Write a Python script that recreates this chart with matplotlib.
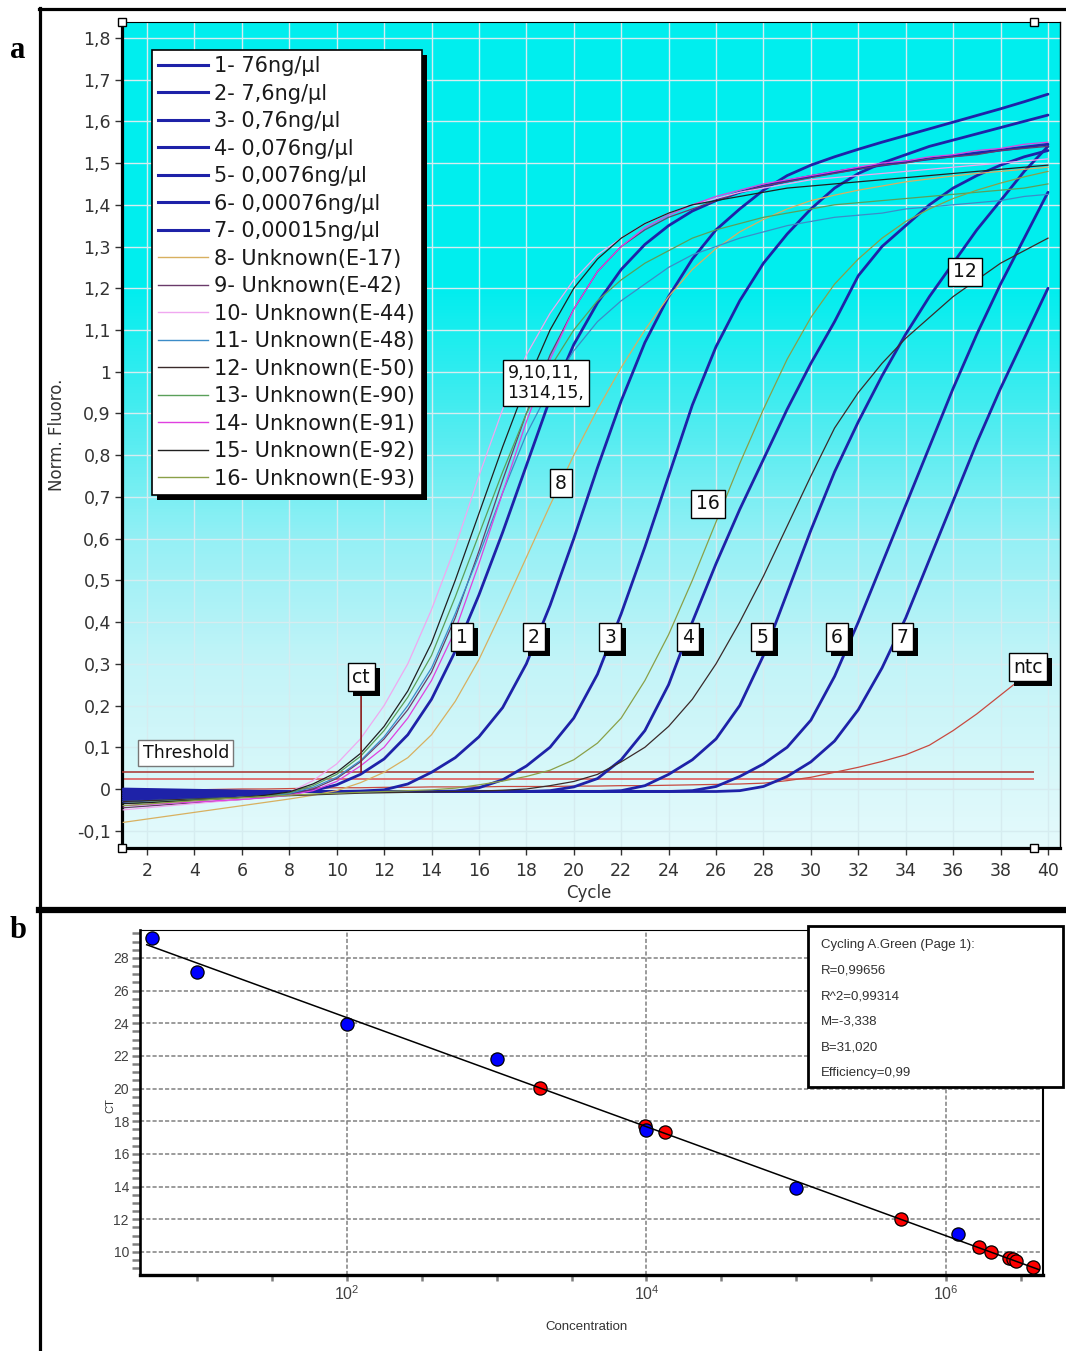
import numpy as np
import matplotlib
matplotlib.use("Agg")
import matplotlib.pyplot as plt
from matplotlib.colors import LinearSegmentedColormap
from matplotlib.patches import Rectangle
from matplotlib.lines import Line2D
from matplotlib.transforms import IdentityTransform
from matplotlib.ticker import FixedLocator, FuncFormatter, MultipleLocator, NullFormatter

W, H = 1066, 1351

# --- Panel a: amplification curves (Norm. Fluoro. per cycle) ---
cycles = list(range(1, 41))

std1 = [-0.030, -0.027, -0.024, -0.021, -0.018, -0.015, -0.012, -0.009, -0.004, 0.010,
        0.035, 0.072, 0.130, 0.215, 0.330, 0.465, 0.615, 0.775, 0.935, 1.065,
        1.165, 1.245, 1.305, 1.350, 1.385, 1.410, 1.430, 1.445, 1.457, 1.468,
        1.478, 1.487, 1.495, 1.503, 1.510, 1.517, 1.524, 1.531, 1.538, 1.545]
std2 = [-0.025, -0.022, -0.019, -0.016, -0.013, -0.010, -0.008, -0.006, -0.006, -0.006,
        -0.005, -0.002, 0.012, 0.040, 0.075, 0.125, 0.195, 0.300, 0.440, 0.600,
        0.770, 0.930, 1.070, 1.180, 1.270, 1.340, 1.390, 1.435, 1.470, 1.495,
        1.515, 1.533, 1.550, 1.566, 1.582, 1.598, 1.614, 1.630, 1.647, 1.665]
std3 = [-0.020, -0.018, -0.016, -0.014, -0.012, -0.010, -0.008, -0.006, -0.006, -0.006,
        -0.006, -0.006, -0.006, -0.006, -0.005, 0.003, 0.022, 0.055, 0.100, 0.170,
        0.275, 0.420, 0.580, 0.750, 0.920, 1.060, 1.170, 1.260, 1.330, 1.390,
        1.440, 1.475, 1.500, 1.520, 1.540, 1.555, 1.570, 1.585, 1.600, 1.615]
std4 = [-0.015, -0.014, -0.013, -0.012, -0.011, -0.010, -0.008, -0.006, -0.006, -0.006,
        -0.006, -0.006, -0.006, -0.006, -0.006, -0.006, -0.006, -0.006, -0.004, 0.005,
        0.025, 0.070, 0.140, 0.250, 0.400, 0.540, 0.670, 0.790, 0.910, 1.020,
        1.120, 1.230, 1.300, 1.350, 1.400, 1.440, 1.470, 1.495, 1.515, 1.530]
std5 = [-0.010, -0.010, -0.009, -0.009, -0.008, -0.008, -0.007, -0.006, -0.006, -0.006,
        -0.006, -0.006, -0.006, -0.006, -0.006, -0.006, -0.006, -0.006, -0.006, -0.006,
        -0.006, -0.004, 0.008, 0.035, 0.070, 0.120, 0.200, 0.320, 0.470, 0.620,
        0.760, 0.880, 0.990, 1.090, 1.180, 1.260, 1.340, 1.410, 1.480, 1.540]
std6 = [-0.004, -0.004, -0.005, -0.005, -0.005, -0.006, -0.006, -0.006, -0.006, -0.006,
        -0.006, -0.006, -0.006, -0.006, -0.006, -0.006, -0.006, -0.006, -0.006, -0.006,
        -0.006, -0.006, -0.006, -0.006, -0.004, 0.006, 0.030, 0.060, 0.100, 0.165,
        0.270, 0.400, 0.540, 0.680, 0.820, 0.960, 1.090, 1.210, 1.320, 1.430]
std7 = [0.000, -0.001, -0.002, -0.003, -0.004, -0.005, -0.006, -0.006, -0.006, -0.006,
        -0.006, -0.006, -0.006, -0.006, -0.006, -0.006, -0.006, -0.006, -0.006, -0.006,
        -0.006, -0.006, -0.006, -0.006, -0.006, -0.006, -0.004, 0.006, 0.030, 0.065,
        0.115, 0.190, 0.290, 0.410, 0.550, 0.690, 0.830, 0.960, 1.080, 1.200]

unk8 = [-0.080, -0.072, -0.064, -0.056, -0.048, -0.040, -0.032, -0.024, -0.015, -0.004,
        0.015, 0.040, 0.075, 0.130, 0.210, 0.310, 0.430, 0.555, 0.680, 0.800,
        0.910, 1.010, 1.100, 1.180, 1.245, 1.295, 1.335, 1.365, 1.390, 1.410,
        1.423, 1.435, 1.445, 1.455, 1.462, 1.469, 1.475, 1.480, 1.485, 1.490]
unk9 = [-0.045, -0.041, -0.037, -0.033, -0.029, -0.025, -0.020, -0.013, 0.000, 0.025,
        0.065, 0.120, 0.190, 0.280, 0.410, 0.570, 0.740, 0.900, 1.040, 1.150,
        1.240, 1.300, 1.340, 1.370, 1.390, 1.410, 1.430, 1.445, 1.455, 1.465,
        1.475, 1.485, 1.495, 1.500, 1.510, 1.515, 1.520, 1.530, 1.535, 1.540]
unk10 = [-0.050, -0.045, -0.040, -0.035, -0.030, -0.025, -0.018, -0.008, 0.020, 0.060,
         0.120, 0.200, 0.300, 0.430, 0.580, 0.750, 0.910, 1.040, 1.140, 1.220,
         1.280, 1.320, 1.355, 1.380, 1.400, 1.415, 1.430, 1.440, 1.450, 1.460,
         1.465, 1.470, 1.475, 1.480, 1.485, 1.490, 1.495, 1.500, 1.505, 1.510]
unk11 = [-0.030, -0.028, -0.026, -0.024, -0.022, -0.020, -0.017, -0.011, 0.004, 0.028,
         0.068, 0.125, 0.200, 0.290, 0.420, 0.560, 0.710, 0.850, 0.960, 1.050,
         1.120, 1.170, 1.210, 1.250, 1.280, 1.300, 1.320, 1.335, 1.350, 1.360,
         1.370, 1.375, 1.380, 1.390, 1.395, 1.400, 1.405, 1.410, 1.420, 1.425]
unk12 = [-0.030, -0.028, -0.026, -0.024, -0.022, -0.020, -0.018, -0.016, -0.014, -0.012,
         -0.010, -0.009, -0.008, -0.007, -0.006, -0.005, -0.003, 0.000, 0.008, 0.018,
         0.035, 0.065, 0.100, 0.150, 0.215, 0.300, 0.400, 0.510, 0.630, 0.750,
         0.865, 0.950, 1.020, 1.080, 1.130, 1.180, 1.220, 1.260, 1.290, 1.320]
unk13 = [-0.035, -0.032, -0.029, -0.026, -0.023, -0.020, -0.016, -0.009, 0.008, 0.035,
         0.078, 0.140, 0.220, 0.320, 0.460, 0.610, 0.760, 0.900, 1.010, 1.100,
         1.170, 1.220, 1.260, 1.290, 1.320, 1.340, 1.355, 1.370, 1.380, 1.390,
         1.400, 1.405, 1.410, 1.415, 1.420, 1.425, 1.430, 1.435, 1.440, 1.450]
unk14 = [-0.040, -0.037, -0.034, -0.031, -0.028, -0.025, -0.021, -0.015, -0.004, 0.018,
         0.055, 0.100, 0.170, 0.260, 0.380, 0.540, 0.710, 0.880, 1.030, 1.150,
         1.240, 1.300, 1.345, 1.375, 1.400, 1.420, 1.435, 1.450, 1.460, 1.470,
         1.480, 1.490, 1.500, 1.505, 1.515, 1.520, 1.530, 1.535, 1.545, 1.550]
unk15 = [-0.035, -0.033, -0.030, -0.027, -0.024, -0.020, -0.015, -0.007, 0.012, 0.040,
         0.085, 0.150, 0.235, 0.350, 0.500, 0.660, 0.820, 0.970, 1.100, 1.200,
         1.270, 1.320, 1.355, 1.380, 1.400, 1.410, 1.420, 1.430, 1.440, 1.445,
         1.450, 1.455, 1.460, 1.465, 1.470, 1.475, 1.480, 1.485, 1.490, 1.495]
unk16 = [-0.040, -0.036, -0.032, -0.028, -0.024, -0.021, -0.018, -0.015, -0.012, -0.010,
         -0.008, -0.006, -0.004, -0.002, 0.002, 0.010, 0.019, 0.030, 0.045, 0.070,
         0.110, 0.170, 0.260, 0.370, 0.500, 0.640, 0.780, 0.910, 1.030, 1.130,
         1.210, 1.270, 1.320, 1.360, 1.390, 1.415, 1.435, 1.452, 1.467, 1.480]
ntc = [-0.005, -0.004, -0.003, -0.002, -0.001, 0.000, 0.000, 0.001, 0.002, 0.003,
       0.003, 0.004, 0.004, 0.005, 0.005, 0.005, 0.006, 0.006, 0.006, 0.007,
       0.007, 0.008, 0.008, 0.009, 0.010, 0.011, 0.012, 0.014, 0.020, 0.028,
       0.040, 0.052, 0.066, 0.082, 0.105, 0.140, 0.180, 0.225, 0.270, 0.310]

threshold = 0.04
ntc_flat = 0.025
threshold_end = 39.4

std_labels = ["1- 76ng/\u00b5l", "2- 7,6ng/\u00b5l", "3- 0,76ng/\u00b5l", "4- 0,076ng/\u00b5l",
              "5- 0,0076ng/\u00b5l", "6- 0,00076ng/\u00b5l", "7- 0,00015ng/\u00b5l"]
unk_labels = ["8- Unknown(E-17)", "9- Unknown(E-42)", "10- Unknown(E-44)", "11- Unknown(E-48)",
              "12- Unknown(E-50)", "13- Unknown(E-90)", "14- Unknown(E-91)", "15- Unknown(E-92)",
              "16- Unknown(E-93)"]
unk_colors = ["#d8b060", "#6a3a6a", "#f0a8f0", "#3c8cc8", "#3a2a2a",
              "#5aa05a", "#e040e0", "#202020", "#8aa048"]

# --- Panel b: standard curve ---
std_conc = [5.0, 10.0, 100.0, 1000.0, 1.0e4, 1.0e5, 1.2e6]
std_ct = [29.24, 27.12, 23.98, 21.83, 17.47, 13.90, 11.10]
unk_conc = [1950.0, 9770.0, 13200.0, 5.0e5, 1.66e6, 2.0e6, 2.63e6, 2.82e6, 2.95e6, 3.8e6]
unk_ct = [20.06, 17.73, 17.36, 12.00, 10.32, 10.00, 9.65, 9.55, 9.46, 9.08]
fit_R, fit_R2, fit_M, fit_B, fit_eff = 0.99656, 0.99314, -3.338, 31.020, 0.99
fit_range = [4.6, 4.2e6]

STD_COLOR = "#1e22a8"


def fx(px):
    return px / W


def fy(py):
    return 1 - py / H


def comma(v, nd):
    return f"{v:.{nd}f}".replace(".", ",")


fig = plt.figure(figsize=(W / 100, H / 100), dpi=100)

# --- frame ---
fig.add_artist(Line2D([fx(39), fx(1066)], [fy(9), fy(9)], color="black", lw=2.3))
fig.add_artist(Line2D([fx(40), fx(40)], [fy(8), fy(1351)], color="black", lw=2.3))
fig.add_artist(Line2D([fx(39), fx(1066)], [fy(910), fy(910)], color="black", lw=4.5))
fig.text(fx(18), fy(50), "a", fontsize=22, fontweight="bold", family="Liberation Serif",
         ha="center", va="center")
fig.text(fx(18), fy(930), "b", fontsize=22, fontweight="bold", family="Liberation Serif",
         ha="center", va="center")

# ================= panel a =================
ax = fig.add_axes([fx(122), fy(848), fx(1060) - fx(122), fy(22) - fy(848)])
xlim = (0.946, 40.507)
ylim = (-0.1414, 1.838)

bg = LinearSegmentedColormap.from_list("bg", [
    (0.0, "#e4fafc"), (0.07, "#daf8fa"), (0.22, "#c3f4f8"), (0.37, "#96f0f5"),
    (0.53, "#46ecf0"), (0.68, "#00eeee"), (1.0, "#00eeee")])
ax.imshow(np.linspace(0, 1, 256).reshape(-1, 1), cmap=bg, origin="lower",
          extent=[xlim[0], xlim[1], ylim[0], ylim[1]], aspect="auto", zorder=0,
          interpolation="bilinear")

for vals in [std1, std2, std3, std4, std5, std6, std7]:
    ax.plot(cycles, vals, color=STD_COLOR, lw=2.0, zorder=3, solid_capstyle="round",
            solid_joinstyle="round")

ax.hlines(ntc_flat, cycles[0], threshold_end, color="#e05050", lw=1.1, zorder=2.5)
ax.hlines(threshold, xlim[0], threshold_end, color="#a8302c", lw=1.1, zorder=2.6)
ax.plot(cycles, ntc, color="#c84a40", lw=0.9, zorder=2.7)

unk_vals = [unk8, unk9, unk10, unk11, unk12, unk13, unk14, unk15, unk16]
for vals, col in zip(unk_vals, unk_colors):
    ax.plot(cycles, vals, color=col, lw=0.9, zorder=4)

ax.set_xlim(*xlim)
ax.set_ylim(*ylim)
ax.set_xticks(range(2, 41, 2))
ax.set_yticks(np.round(np.arange(-0.1, 1.81, 0.1), 1))


def fmt_a(v, pos):
    if abs(v) < 1e-9:
        v = 0.0
    return f"{v:g}".replace(".", ",")


ax.yaxis.set_major_formatter(FuncFormatter(fmt_a))
ax.grid(True, color="#d6ecf0", lw=1.0)
ax.set_axisbelow(True)
ax.tick_params(axis="both", direction="out", length=5, width=1, colors="#333333",
               labelsize=12.5)
ax.tick_params(axis="x", pad=5)
ax.tick_params(axis="y", pad=3)
ax.spines["left"].set_linewidth(2.3)
ax.spines["bottom"].set_linewidth(2.3)
ax.spines["top"].set_linewidth(0.8)
ax.spines["right"].set_linewidth(1.0)

fig.text(fx(57), fy(435), "Norm. Fluoro.", rotation=90, fontsize=12, color="#333333",
         ha="center", va="center")
fig.text(fx(589), fy(893), "Cycle", fontsize=12, color="#333333", ha="center", va="center")

# corner handles
for hx in [xlim[0], threshold_end]:
    for hy in [ylim[0], ylim[1]]:
        ax.plot([hx], [hy], marker="s", ms=6, mfc="white", mec="black", mew=1,
                clip_on=False, zorder=12)

shadowed = []


def label_box(x, y, s, shadow=True, fs=13.5, ec="black", **kw):
    t = ax.text(x, y, s, ha="center", va="center", fontsize=fs, zorder=7, color="#111111",
                bbox=dict(boxstyle="square,pad=0.25", fc="white", ec=ec, lw=1), **kw)
    if shadow:
        shadowed.append(t)
    return t


curve_labels = [("1", 15.29), ("2", 18.32), ("3", 21.53), ("4", 24.82),
                ("5", 27.94), ("6", 31.10), ("7", 33.88)]
for s, cx in curve_labels:
    label_box(cx, 0.364, s)
label_box(19.46, 0.733, "8", shadow=False)
label_box(25.66, 0.683, "16", shadow=False)
label_box(36.5, 1.239, "12", shadow=False)
label_box(18.83, 0.973, "9,10,11,\n1314,15,", shadow=False, fs=12.5, linespacing=1.15,
          multialignment="left")
label_box(3.64, 0.086, "Threshold", shadow=False, fs=12.5, ec="#777777")

# ct marker
label_box(11.03, 0.268, "ct", shadow=True)
ax.annotate("", xy=(11.03, threshold), xytext=(11.03, 0.232),
            arrowprops=dict(arrowstyle="-", color="#8b1a1a", lw=1.2, shrinkA=0, shrinkB=0),
            zorder=5)
label_box(39.16, 0.292, "ntc", shadow=True)

# legend
handles = [Line2D([], [], color=STD_COLOR, lw=2.2) for _ in std_labels] + \
          [Line2D([], [], color=c, lw=1.0) for c in unk_colors]
leg = ax.legend(handles, std_labels + unk_labels, loc="upper left",
                bbox_to_anchor=(fx(152), fy(50)), bbox_transform=fig.transFigure,
                fontsize=15, frameon=True, fancybox=False, edgecolor="black", framealpha=1,
                borderpad=0.3, labelspacing=0.36, handlelength=2.4, handletextpad=0.3,
                borderaxespad=0)
leg.get_frame().set_linewidth(1.2)
leg.set_zorder(10)
for t in leg.get_texts():
    t.set_color("#1a1a1a")

# ================= panel b =================
axb = fig.add_axes([fx(140), fy(1275), fx(1043) - fx(140), fy(930) - fy(1275)])
axb.set_xscale("log")
axb.set_xlim(10 ** 0.6177, 10 ** 6.648)
axb.set_ylim(8.59, 29.71)

line_x = np.array(fit_range)
axb.plot(line_x, fit_B + fit_M * np.log10(line_x), color="black", lw=1.1, zorder=5)
axb.plot(unk_conc, unk_ct, "o", ms=9.5, mfc="#ff0000", mec="black", mew=0.9, zorder=3)
axb.plot(std_conc, std_ct, "o", ms=9.5, mfc="#0000ff", mec="black", mew=0.9, zorder=4)

axb.xaxis.set_major_locator(FixedLocator([1e2, 1e4, 1e6]))
axb.xaxis.set_major_formatter(FuncFormatter(
    lambda v, p: r"$\mathregular{10^{%d}}$" % round(np.log10(v))))
axb.xaxis.set_minor_locator(FixedLocator(10 ** np.array([1.0, 1.5, 2.5, 3.0, 3.5, 4.5, 5.0, 5.5, 6.5])))
axb.xaxis.set_minor_formatter(NullFormatter())
axb.set_yticks(range(10, 29, 2))
axb.yaxis.set_minor_locator(MultipleLocator(0.5))
axb.grid(True, which="major", color="#808080", lw=1.1, ls=(0, (2.7, 1.4)))
axb.set_axisbelow(True)
axb.tick_params(axis="y", which="both", direction="out", length=6, width=1.8, color="#808080",
                labelcolor="#404040", labelsize=10, pad=2)
axb.tick_params(axis="x", which="both", direction="out", length=4, width=1.8, color="#808080",
                labelcolor="#404040", labelsize=11.5, pad=3)
for lab in axb.get_xticklabels() + axb.get_yticklabels():
    lab.set_family("Liberation Sans")
axb.spines["left"].set_linewidth(1.9)
axb.spines["bottom"].set_linewidth(2.4)
axb.spines["top"].set_linewidth(0.8)
axb.spines["right"].set_linewidth(1.5)

fig.text(fx(110), fy(1106), "CT", rotation=90, fontsize=8, color="#333333",
         family="Liberation Sans", ha="center", va="center")
fig.text(fx(587), fy(1327), "Concentration", fontsize=9.5, color="#333333",
         family="Liberation Sans", ha="center", va="center")

# stats box
fig.add_artist(Rectangle((fx(808), fy(1087)), fx(1063) - fx(808), fy(926) - fy(1087),
                         transform=fig.transFigure, fc="white", ec="black", lw=2.0, zorder=20))
stats = ["Cycling A.Green (Page 1):",
         "R=" + comma(fit_R, 5),
         "R^2=" + comma(fit_R2, 5),
         "M=" + comma(fit_M, 3),
         "B=" + comma(fit_B, 3),
         "Efficiency=" + comma(fit_eff, 2)]
for i, s in enumerate(stats):
    fig.text(fx(821), fy(945 + i * 25.6), s, fontsize=9.5, color="#303030",
             family="Liberation Sans", ha="left", va="center", zorder=21)

# drop shadows (legend and label boxes), placed once the layout is known
fig.canvas.draw()
bb = leg.get_window_extent()
ax.add_patch(Rectangle((bb.x0 + 5, bb.y0 - 5), bb.width, bb.height, transform=IdentityTransform(),
                       fc="black", ec="none", zorder=9.5, clip_on=False))
for t in shadowed:
    eb = t.get_bbox_patch().get_window_extent()
    ax.add_patch(Rectangle((eb.x0 + 5, eb.y0 - 5), eb.width, eb.height,
                           transform=IdentityTransform(), fc="black", ec="none", zorder=6.5,
                           clip_on=False))

fig.savefig("out.png", dpi=100)
